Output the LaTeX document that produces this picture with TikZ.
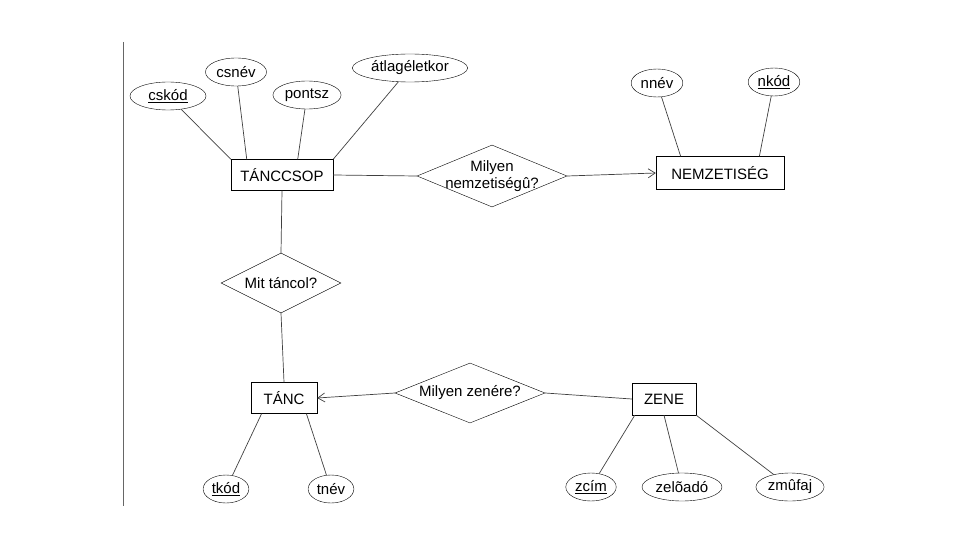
\documentclass[tikz,border=0pt]{standalone}
\usepackage{fontspec}
\setmainfont{Liberation Sans}
\usetikzlibrary{arrows.meta,positioning,shapes.geometric}

\begin{document}
\begin{tikzpicture}[
        x=1pt, y=-1pt,
        font=\fontsize{15}{16}\selectfont,
        egyed/.style={draw, minimum height=31pt, inner sep=2pt},
        tul/.style={draw, ellipse, inner xsep=2pt, inner ysep=1pt, minimum height=28pt},
        kapcs/.style={draw, diamond, inner xsep=-14pt, inner ysep=-6pt, aspect=2.4, align=center},
        vonal/.style={draw=black!75, line width=0.7pt},
        nyil/.style={vonal, -{Straight Barb[length=7pt, width=9pt]}}
    ]
    \useasboundingbox (0,0) rectangle (960,540);
    \draw[black!60, line width=1pt] (123,42) -- (123,506);

    % egyedek
    \node[egyed, minimum width=102pt] (tanccsop) at (282,175) {TÁNCCSOP};
    \node[egyed, minimum width=128pt, minimum height=33pt] (nemzet) at (720,173) {NEMZETISÉG};
    \node[egyed, minimum width=66pt] (tanc) at (284,398) {TÁNC};
    \node[egyed, minimum width=64pt, minimum height=32pt] (zene) at (664,399) {ZENE};

    % kapcsolatok
    \node[kapcs, minimum width=150pt, minimum height=62pt] (milyennemz) at (492,176) {Milyen\\[1pt] nemzetiségû?};
    \node[kapcs, minimum width=120pt, minimum height=60pt] (mittancol) at (281,283) {Mit táncol?};
    \node[kapcs, minimum width=150pt, minimum height=60pt] (milyenzene) at (470,393) {Milyen zenére?};

    % tulajdonsagok
    \node[tul, minimum width=76pt] (cskod) at (168,96) {\underline{cskód}};
    \node[tul] (csnev) at (236,72) {csnév};
    \node[tul] (pontsz) at (307,95) {pontsz};
    \node[tul] (atlag) at (410,68) {átlagéletkor};
    \node[tul] (nnev) at (657,83) {nnév};
    \node[tul] (nkod) at (774,82) {\underline{nkód}};
    \node[tul] (tkod) at (226,489) {\underline{tkód}};
    \node[tul] (tnev) at (331,489) {tnév};
    \node[tul] (zcim) at (591,487) {\underline{zcím}};
    \node[tul] (zeloado) at (682,487) {zelõadó};
    \node[tul] (zmufaj) at (790,487) {zmûfaj};

    \draw[vonal] (cskod) -- (tanccsop.north west);
    \draw[vonal] (csnev) -- (tanccsop.156);
    \draw[vonal] (pontsz) -- (tanccsop.45);
    \draw[vonal] (atlag) -- (tanccsop.north east);
    \draw[vonal] (nnev) -- (nemzet.157);
    \draw[vonal] (nkod) -- (nemzet.23);
    \draw[vonal] (tkod) -- (tanc.215);
    \draw[vonal] (tnev) -- (tanc.325);
    \draw[vonal] (zcim) -- (zene.209);
    \draw[vonal] (zeloado) -- (zene.south);
    \draw[vonal] (zmufaj) -- (zene.south east);

    \draw[vonal] (tanccsop.east) -- (milyennemz.west);
    \draw[nyil] (milyennemz.east) -- (nemzet.west);
    \draw[vonal] (tanccsop.south) -- (mittancol.north);
    \draw[vonal] (mittancol.south) -- (tanc.north);
    \draw[nyil] (milyenzene.west) -- (tanc.east);
    \draw[vonal] (milyenzene.east) -- (zene.west);
\end{tikzpicture}
\end{document}
